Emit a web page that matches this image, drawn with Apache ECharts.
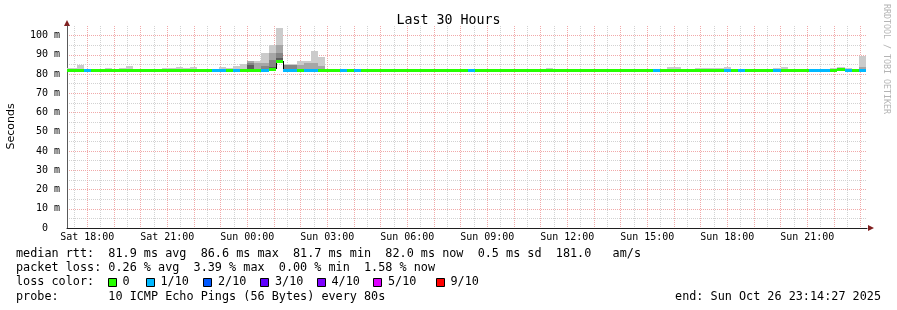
<!DOCTYPE html>
<html><head><meta charset="utf-8">
<script src="https://cdn.jsdelivr.net/npm/echarts@6/dist/echarts.min.js"></script>
<style>html,body{margin:0;padding:0;background:#fff}#c{width:897px;height:310px}</style>
</head><body><div id="c"></div>
<script>
// x values are minutes since Sat 00:00
const X_START = 17 * 60 + 14 + 27 / 60;     // Sat 17:14:27
const X_END = X_START + 30 * 60;            // Sun 23:14:27
const BUCKET_FIRST = 17 * 60 + 4;           // first 16-min bucket starts Sat 17:04
const BUCKET_MIN = 16;

const xTickLabels = ['Sat 18:00','Sat 21:00','Sun 00:00','Sun 03:00','Sun 06:00','Sun 09:00','Sun 12:00','Sun 15:00','Sun 18:00','Sun 21:00'];
const yTickLabels = ['0  ','10 m','20 m','30 m','40 m','50 m','60 m','70 m','80 m','90 m','100 m'];

// median rtt per bucket (ms)
const median = [
81.9,81.9,81.8,81.9,81.9,81.9,81.9,81.9,81.9,81.9,
81.9,81.9,81.9,81.8,81.9,81.9,81.9,81.9,81.9,81.9,
81.9,81.9,81.9,81.9,81.9,81.8,82.0,82.1,81.9,82.4,
86.6,81.9,81.9,81.9,81.9,81.9,82.0,81.9,81.9,81.9,
81.9,81.9,81.9,81.9,81.9,81.9,81.9,81.9,81.9,81.9,
81.9,81.9,81.9,81.9,81.9,81.9,81.9,81.9,81.9,81.9,
81.9,81.7,81.9,81.9,81.9,81.9,81.9,81.9,81.9,81.9,
81.9,81.9,81.9,81.9,81.9,81.9,81.9,81.9,81.9,81.9,
81.9,81.9,81.9,81.9,81.9,81.9,81.9,81.9,81.9,81.9,
81.9,81.9,81.9,81.9,81.9,81.9,81.9,81.9,81.9,81.9,
81.9,81.9,81.9,81.9,81.9,81.9,81.9,81.9,81.9,82.4,
81.9,81.9,82.0
];
// loss colour class per bucket (index into lossColors)
const lossClass = [
0,0,0,1,0,0,0,0,0,0,
0,0,0,0,0,0,0,0,0,0,
0,1,1,0,1,0,0,0,1,0,
0,1,1,0,1,1,0,0,0,1,
0,1,0,0,0,0,0,0,0,0,
0,0,0,0,0,0,0,1,0,0,
0,0,0,0,0,0,0,0,0,0,
0,0,0,0,0,0,0,0,0,0,
0,0,0,1,0,0,0,0,0,0,
0,0,0,1,0,1,0,0,0,0,
1,0,0,0,0,1,1,1,0,0,
1,0,1
];
// outer smoke top (max ping) per bucket, ms
const smokeOuter = [
83.2,83.2,84.9,82.9,82.9,null,83.2,82.9,83.2,84.4,
82.9,82.9,82.9,82.9,83.2,83.2,83.7,83.2,83.7,82.9,
82.9,82.9,83.9,83.2,84.2,85.0,86.8,86.8,90.9,95.2,
103.9,85.2,85.2,86.8,86.8,92.0,89.1,82.9,null,82.9,
82.9,null,null,null,null,null,null,null,null,null,
null,null,null,null,null,null,null,null,null,null,
null,null,null,null,null,null,null,null,83.2,null,
null,null,null,82.9,null,null,null,null,null,82.9,
82.9,null,null,82.9,82.9,83.7,83.7,82.9,82.9,83.2,
83.2,83.2,83.2,83.9,82.9,null,82.9,82.9,82.9,null,
83.2,83.9,null,null,null,null,null,82.9,83.2,83.5,
83.2,82.9,89.5
];
// inner smoke layers: [bucket index, top ms]
const smokeMid = [[26,86.8],[27,85.6],[28,85.9],[29,90.8],[30,95.1],[33,84.7],[34,85.7],[35,85.9],[36,84.2],[112,83.9]];
const smokeDark = [[26,85.6],[28,84.2],[29,87.3],[30,90.8],[31,84.7],[32,84.7]];
const smokeDarkest = [[26,84.5],[29,83.8],[30,88.2]];

const lossColors = ['#26ff00','#00b8ff','#0059ff','#5e00ff','#7e00ff','#dd00ff','#ff0000'];
const lossLegend = ['0','1/10','2/10','3/10','4/10','5/10','9/10'];
const smokeColors = ['#cbcbcb','#a6a6a6','#858585','#5c5c5c'];

const statsRtt = ['81.9','86.6','81.7','82.0','0.5','181.0'];
const statsLoss = ['0.26','3.39','0.00','1.58'];

function layerArray(pairs) {
  const a = median.map(() => 0);
  pairs.forEach(p => { a[p[0]] = p[1]; });
  return a;
}
const mid = layerArray(smokeMid), dark = layerArray(smokeDark), darkest = layerArray(smokeDarkest);

const data = median.map((m, i) => {
  const x0 = BUCKET_FIRST + i * BUCKET_MIN;
  return [x0, x0 + BUCKET_MIN, m, lossClass[i],
    smokeOuter[i] == null ? 0 : smokeOuter[i], mid[i], dark[i], darkest[i]];
});

function renderSmoke(params, api) {
  const x0 = api.value(0), x1 = api.value(1), m = api.value(2);
  const pL = api.coord([x0, m]), pR = api.coord([x1, m]);
  const left = Math.round(pL[0]), right = Math.round(pR[0]);
  const yM = Math.round(pL[1]);
  const children = [];
  for (let L = 0; L < 4; L++) {
    const v = api.value(4 + L);
    if (!(v > m)) continue;
    const yT = Math.round(api.coord([x0, v])[1]);
    if (yT >= yM) continue;
    children.push({type: 'rect', shape: {x: left, y: yT, width: right - left, height: yM - yT},
      style: {fill: smokeColors[L]}});
  }
  return {type: 'group', children};
}

function renderMedian(params, api) {
  const i = params.dataIndex;
  const x0 = api.value(0), x1 = api.value(1), m = api.value(2), lc = api.value(3);
  const pL = api.coord([x0, m]), pR = api.coord([x1, m]);
  const left = Math.round(pL[0]), right = Math.round(pR[0]);
  const yc = pL[1];
  const children = [];
  if (i > 0) {
    const prevY = api.coord([x0, median[i - 1]])[1];
    if (Math.abs(prevY - yc) > 2) {
      children.push({type: 'line', shape: {x1: left + 0.5, y1: Math.round(prevY), x2: left + 0.5, y2: Math.round(yc)},
        style: {stroke: '#000', lineWidth: 1}});
    }
  }
  children.push({type: 'rect', shape: {x: left, y: Math.round(yc - 1.5), width: right - left, height: 3},
    style: {fill: lossColors[lc]}});
  return {type: 'group', children};
}

const MONO = '"DejaVu Sans Mono"';
const legendFont = '11.8px ' + MONO;
const rowY = [254, 268.2, 282.4, 296.6];

const graphics = [
  {type: 'text', x: 448.5, y: 20.5, style: {text: 'Last 30 Hours', font: '13.3px ' + MONO, fill: '#000', align: 'center', verticalAlign: 'middle', textAlign: 'center', textVerticalAlign: 'middle'}},
  {type: 'text', x: 11, y: 126.5, rotation: Math.PI / 2, style: {text: 'Seconds', font: '11px "DejaVu Sans"', fill: '#000', align: 'center', verticalAlign: 'middle', textAlign: 'center', textVerticalAlign: 'middle'}},
  {type: 'text', x: 886.5, y: 59, rotation: -Math.PI / 2, style: {text: 'RRDTOOL / TOBI OETIKER', font: '8.3px ' + MONO, fill: '#b4b4b4', align: 'center', verticalAlign: 'middle', textAlign: 'center', textVerticalAlign: 'middle'}},
  {type: 'polygon', shape: {points: [[64, 26], [70, 26], [67, 20]]}, style: {fill: '#801f1f'}},
  {type: 'polygon', shape: {points: [[868, 225], [868, 231], [874, 228]]}, style: {fill: '#801f1f'}},
  {type: 'text', x: 16, y: rowY[0], style: {text: 'median rtt:  ' + statsRtt[0] + ' ms avg  ' + statsRtt[1] + ' ms max  ' + statsRtt[2] + ' ms min  ' + statsRtt[3] + ' ms now  ' + statsRtt[4] + ' ms sd  ' + statsRtt[5] + '   am/s', font: legendFont, fill: '#000', verticalAlign: 'middle', textVerticalAlign: 'middle'}},
  {type: 'text', x: 16, y: rowY[1], style: {text: 'packet loss: ' + statsLoss[0] + ' % avg  ' + statsLoss[1] + ' % max  ' + statsLoss[2] + ' % min  ' + statsLoss[3] + ' % now', font: legendFont, fill: '#000', verticalAlign: 'middle', textVerticalAlign: 'middle'}},
  {type: 'text', x: 16, y: rowY[2], style: {text: 'loss color:', font: legendFont, fill: '#000', verticalAlign: 'middle', textVerticalAlign: 'middle'}},
  {type: 'text', x: 16, y: rowY[3], style: {text: 'probe:       10 ICMP Echo Pings (56 Bytes) every 80s', font: legendFont, fill: '#000', verticalAlign: 'middle', textVerticalAlign: 'middle'}},
  {type: 'text', x: 881, y: rowY[3], style: {text: 'end: Sun Oct 26 23:14:27 2025', font: legendFont, fill: '#000', align: 'right', textAlign: 'right', verticalAlign: 'middle', textVerticalAlign: 'middle'}}
];
const sqX = [108, 146, 203, 260, 317, 373, 436];
const lblX = [122.5, 160.5, 218, 275, 331.5, 388, 450.5];
lossLegend.forEach((t, i) => {
  graphics.push({type: 'rect', shape: {x: sqX[i] + 0.5, y: 278.5, width: 8, height: 8}, style: {fill: lossColors[i], stroke: '#000', lineWidth: 1}});
  graphics.push({type: 'text', x: lblX[i], y: rowY[2], style: {text: t, font: legendFont, fill: '#000', verticalAlign: 'middle', textVerticalAlign: 'middle'}});
});

const chart = echarts.init(document.getElementById('c'), null, {renderer: 'canvas'});
chart.setOption({
  animation: false,
  backgroundColor: '#fff',
  grid: {left: 67, right: 30, top: 26, bottom: 82, containLabel: false},
  xAxis: {
    type: 'value', min: X_START, max: X_END, minInterval: 60, maxInterval: 60, splitNumber: 30,
    axisLine: {show: true, lineStyle: {color: '#1f1f1f', width: 1}},
    axisTick: {show: false},
    axisLabel: {
      formatter: v => (Math.abs(v % 180) < 1e-6 && v >= 1080) ? (xTickLabels[Math.round((v - 1080) / 180)] || '') : '',
      fontFamily: MONO, fontSize: 10, color: '#000', margin: 4, showMinLabel: true, showMaxLabel: true
    },
    splitLine: {show: true, showMinLine: false, showMaxLine: false, lineStyle: {color: '#f1a9a9', type: [1, 1], width: 1}},
    minorTick: {show: false, splitNumber: 2},
    minorSplitLine: {show: true, lineStyle: {color: '#d2d2d2', type: [1, 1], width: 1}}
  },
  yAxis: {
    type: 'value', min: 0, max: 105, interval: 10,
    axisLine: {show: true, lineStyle: {color: '#5a5a5a', width: 1}},
    axisTick: {show: false},
    axisLabel: {
      formatter: v => (v % 10 === 0 && v <= 100) ? yTickLabels[v / 10] : '',
      fontFamily: MONO, fontSize: 10, color: '#000', margin: 7
    },
    splitLine: {show: true, showMinLine: false, showMaxLine: false, lineStyle: {color: '#f1a9a9', type: [1, 1], width: 1}},
    minorTick: {show: false, splitNumber: 2},
    minorSplitLine: {show: true, lineStyle: {color: '#d2d2d2', type: [1, 1], width: 1}}
  },
  series: [
    {type: 'custom', name: 'smoke', renderItem: renderSmoke, data: data, clip: true, silent: true, z: 2,
      encode: {x: [0, 1], y: [2, 4]}},
    {type: 'custom', name: 'median', renderItem: renderMedian, data: data, clip: true, silent: true, z: 3,
      encode: {x: [0, 1], y: 2}}
  ],
  graphic: graphics
});
</script></body></html>
